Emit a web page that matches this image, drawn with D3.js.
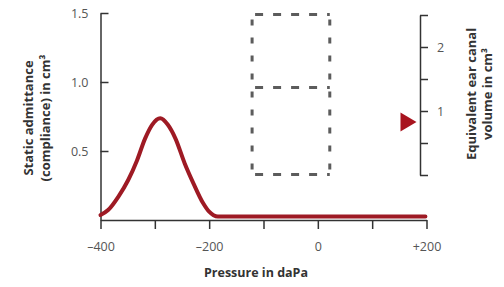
<!DOCTYPE html>
<html><head><meta charset="utf-8">
<script src="https://cdn.jsdelivr.net/npm/d3@7"></script>
<style>
html,body{margin:0;padding:0;background:#fff;}
svg{display:block;}
</style></head>
<body>
<svg id="chart" width="504" height="287"></svg>
<script>
// ---- data ----
const pressure   = [-400, -386, -367, -349, -333, -318, -305, -290, -276, -262, -245, -229, -211, -200, -192, -184, -100, 0, 198];
const admittance = [0.036, 0.072, 0.17, 0.29, 0.43, 0.59, 0.69, 0.737, 0.69, 0.59, 0.41, 0.266, 0.121, 0.06, 0.035, 0.025, 0.025, 0.025, 0.025];
const xTicks = [-400, -300, -200, -100, 0, 100, 200];
const xTickLabels = ["\u2013400", "", "\u2013200", "", "0", "", "+200"];
const yLeftTicks = [0.5, 1.0, 1.5];
const yRightTicks = [0, 0.5, 1, 1.5, 2, 2.5];
const yRightLabels = ["", "", "1", "", "2", ""];
const canalVolume = 0.83;
const boxPressure = [-121, 22];
const boxAdmittance = [0.33, 0.96, 1.49];

const svg = d3.select("#chart");
const font = "'Open Sans', 'Noto Sans', sans-serif";

const x = d3.scaleLinear().domain([-400, 200]).range([100.5, 426.5]);
const yL = d3.scaleLinear().domain([0, 1.5]).range([220, 13]);
const yR = d3.scaleLinear().domain([0, 2.5]).range([175, 15]);

function styleAxis(g){
  g.selectAll("path.domain").attr("stroke", "#333").attr("stroke-width", 1.5);
  g.selectAll(".tick line").attr("stroke", "#333").attr("stroke-width", 1.5);
  g.selectAll(".tick text").attr("fill", "#555").style("font-family", font).style("font-size", "12.5px");
}

// dashed boxes
const dash = svg.append("g").attr("fill", "none").attr("stroke", "#5c5c5c").attr("stroke-width", 3);
const bx0 = x(boxPressure[0]), bx1 = x(boxPressure[1]);
boxAdmittance.forEach(v => {
  dash.append("line").attr("x1", bx0 + 3).attr("x2", bx1).attr("y1", yL(v)).attr("y2", yL(v))
    .attr("stroke-dasharray", "8,10");
});
[bx0, bx1].forEach(bx => {
  dash.append("line").attr("x1", bx).attr("x2", bx)
    .attr("y1", yL(boxAdmittance[2]) + 5).attr("y2", yL(boxAdmittance[0]))
    .attr("stroke-dasharray", "6,12");
});

// x axis
const gx = svg.append("g").attr("transform", `translate(0,${yL(0)})`)
  .call(d3.axisBottom(x).tickValues(xTicks).tickSizeInner(9).tickSizeOuter(0).tickPadding(13)
    .tickFormat((d, i) => xTickLabels[i]));
styleAxis(gx);

// left y axis
const gy = svg.append("g").attr("transform", `translate(${x(-400)},0)`)
  .call(d3.axisLeft(yL).tickValues(yLeftTicks).tickSizeInner(-8).tickSizeOuter(0).tickPadding(12)
    .tickFormat(d3.format(".1f")));
styleAxis(gy);

// right y axis
const gr = svg.append("g").attr("transform", "translate(420,0)")
  .call(d3.axisRight(yR).tickValues(yRightTicks).tickSizeInner(8).tickSizeOuter(0).tickPadding(9)
    .tickFormat((d, i) => yRightLabels[i]));
styleAxis(gr);

// curve
const line = d3.line().x((d, i) => x(pressure[i])).y((d, i) => yL(admittance[i])).curve(d3.curveMonotoneX);
svg.append("path").datum(pressure).attr("d", line)
  .attr("fill", "none").attr("stroke", "#9e1a24").attr("stroke-width", 4).attr("stroke-linecap", "round");

// triangle marker
const ty = yR(canalVolume), tx = 416.5;
svg.append("path").attr("d", `M${tx},${ty}L${tx - 16},${ty - 9.5}L${tx - 16},${ty + 9.5}Z`).attr("fill", "#a8141e");

// titles
svg.append("text").attr("x", 256).attr("y", 277).attr("text-anchor", "middle")
  .style("font-family", font).style("font-size", "12.5px").style("font-weight", "bold").attr("fill", "#333")
  .text("Pressure in daPa");

const lt = svg.append("text").attr("transform", "translate(0,118) rotate(-90)").attr("text-anchor", "middle")
  .style("font-family", font).style("font-size", "13px").style("font-weight", "bold").attr("fill", "#333");
lt.append("tspan").attr("x", 0).attr("y", 32.5).text("Static admittance");
lt.append("tspan").attr("x", 0).attr("y", 49.5).text("(compliance) in cm\u00b3");

const rt = svg.append("text").attr("transform", "translate(0,94) rotate(-90)").attr("text-anchor", "middle")
  .style("font-family", font).style("font-size", "13px").style("font-weight", "bold").attr("fill", "#333");
rt.append("tspan").attr("x", 0).attr("y", 475.5).text("Equivalent ear canal");
rt.append("tspan").attr("x", 0).attr("y", 491.5).text("volume in cm\u00b3");
</script>
</body></html>
